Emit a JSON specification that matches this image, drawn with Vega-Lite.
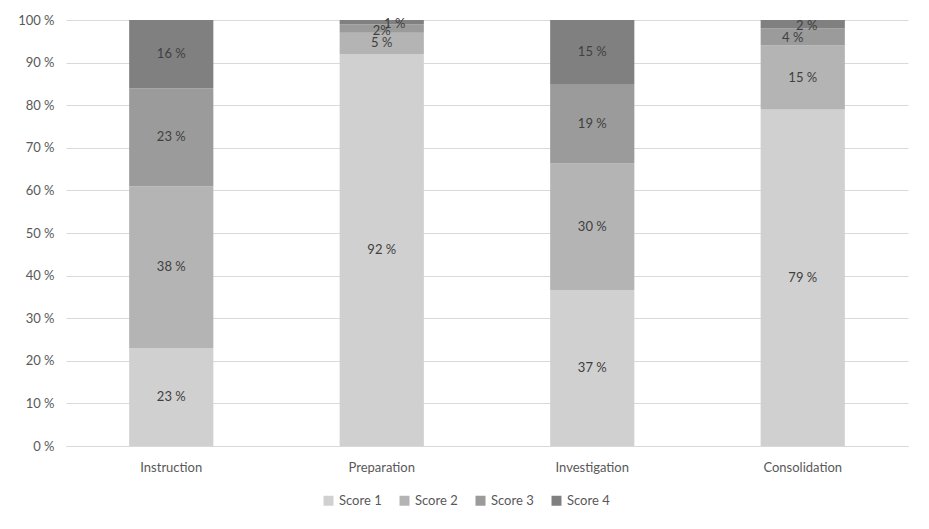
{
  "$schema": "https://vega.github.io/schema/vega-lite/v6.json",
  "autosize": {"type": "none"},
  "padding": {"left": 66, "top": 20, "right": 21, "bottom": 83},
  "width": 842,
  "height": 426,
  "background": "#ffffff",
  "data": {
    "values": [
      {"phase": "Instruction", "score": "Score 1", "value": 23},
      {"phase": "Instruction", "score": "Score 2", "value": 38},
      {"phase": "Instruction", "score": "Score 3", "value": 23},
      {"phase": "Instruction", "score": "Score 4", "value": 16},
      {"phase": "Preparation", "score": "Score 1", "value": 92},
      {"phase": "Preparation", "score": "Score 2", "value": 5},
      {"phase": "Preparation", "score": "Score 3", "value": 2},
      {"phase": "Preparation", "score": "Score 4", "value": 1},
      {"phase": "Investigation", "score": "Score 1", "value": 36.6},
      {"phase": "Investigation", "score": "Score 2", "value": 29.7},
      {"phase": "Investigation", "score": "Score 3", "value": 18.5},
      {"phase": "Investigation", "score": "Score 4", "value": 15.2},
      {"phase": "Consolidation", "score": "Score 1", "value": 79},
      {"phase": "Consolidation", "score": "Score 2", "value": 15},
      {"phase": "Consolidation", "score": "Score 3", "value": 4},
      {"phase": "Consolidation", "score": "Score 4", "value": 2}
    ]
  },
  "transform": [
    {"calculate": "format(datum.value, '.0f') + ' %'", "as": "label"},
    {"calculate": "indexof(['Score 1','Score 2','Score 3','Score 4'], datum.score)", "as": "ord"},
    {"calculate": "datum.phase + '|' + datum.score", "as": "key"},
    {"stack": "value", "groupby": ["phase"], "sort": [{"field": "ord", "order": "ascending"}], "offset": "normalize", "as": ["y0", "y1"]},
    {"calculate": "(datum.y0 + datum.y1) / 2", "as": "ymid"}
  ],
  "encoding": {
    "x": {
      "field": "phase",
      "type": "nominal",
      "sort": ["Instruction", "Preparation", "Investigation", "Consolidation"],
      "scale": {"paddingInner": 0.6, "paddingOuter": 0.3},
      "axis": {
        "title": null,
        "labelAngle": 0,
        "ticks": false,
        "domain": true,
        "domainColor": "#d9d9d9",
        "labelPadding": 15,
        "labelFontSize": 13,
        "labelFont": "Lato",
        "labelColor": "#595959"
      }
    }
  },
  "layer": [
    {
      "mark": {"type": "bar"},
      "encoding": {
        "y": {
          "field": "y0",
          "type": "quantitative",
          "scale": {"domain": [0, 1]},
          "axis": {
            "title": null,
            "values": [0, 0.1, 0.2, 0.3, 0.4, 0.5, 0.6, 0.7, 0.8, 0.9, 1],
            "labelExpr": "round(datum.value * 100) + ' %'",
            "labelOverlap": false,
            "domain": false,
            "ticks": false,
            "grid": true,
            "gridColor": "#d9d9d9",
            "labelPadding": 12,
            "labelFontSize": 13,
            "labelFont": "Lato",
            "labelColor": "#595959"
          }
        },
        "y2": {"field": "y1"},
        "color": {
          "field": "score",
          "type": "nominal",
          "scale": {
            "domain": ["Score 1", "Score 2", "Score 3", "Score 4"],
            "range": ["#d0d0d0", "#b4b4b4", "#9b9b9b", "#808080"]
          },
          "legend": {
            "title": null,
            "orient": "none",
            "legendX": 256,
            "legendY": 474,
            "direction": "horizontal",
            "symbolType": "square",
            "symbolSize": 100,
            "symbolStrokeWidth": 0,
            "labelFontSize": 13,
            "labelFont": "Lato",
            "labelColor": "#595959",
            "columnPadding": 16,
            "labelOffset": 4
          }
        }
      }
    },
    {
      "transform": [{"filter": "indexof(['Preparation|Score 3','Preparation|Score 4','Consolidation|Score 3','Consolidation|Score 4'], datum.key) < 0"}],
      "mark": {"type": "text", "fontSize": 13, "font": "Lato", "color": "#404040"},
      "encoding": {
        "y": {"field": "ymid", "type": "quantitative"},
        "text": {"field": "label"}
      }
    },
    {
      "transform": [{"filter": "datum.key == 'Preparation|Score 4'"}],
      "mark": {"type": "text", "fontSize": 13, "font": "Lato", "color": "#404040", "dx": 13, "dy": 2},
      "encoding": {
        "y": {"field": "ymid", "type": "quantitative"},
        "text": {"field": "label"}
      }
    },
    {
      "transform": [{"filter": "datum.key == 'Preparation|Score 3'"}, {"calculate": "replace(datum.label, ' ', '')", "as": "label2"}],
      "mark": {"type": "text", "fontSize": 13, "font": "Lato", "color": "#404040", "dx": 0, "dy": 2},
      "encoding": {
        "y": {"field": "ymid", "type": "quantitative"},
        "text": {"field": "label2"}
      }
    },
    {
      "transform": [{"filter": "datum.key == 'Consolidation|Score 4'"}],
      "mark": {"type": "text", "fontSize": 13, "font": "Lato", "color": "#404040", "dx": 4, "dy": 2},
      "encoding": {
        "y": {"field": "ymid", "type": "quantitative"},
        "text": {"field": "label"}
      }
    },
    {
      "transform": [{"filter": "datum.key == 'Consolidation|Score 3'"}],
      "mark": {"type": "text", "fontSize": 13, "font": "Lato", "color": "#404040", "dx": -10, "dy": 1},
      "encoding": {
        "y": {"field": "ymid", "type": "quantitative"},
        "text": {"field": "label"}
      }
    }
  ],
  "config": {
    "view": {"stroke": null}
  }
}
